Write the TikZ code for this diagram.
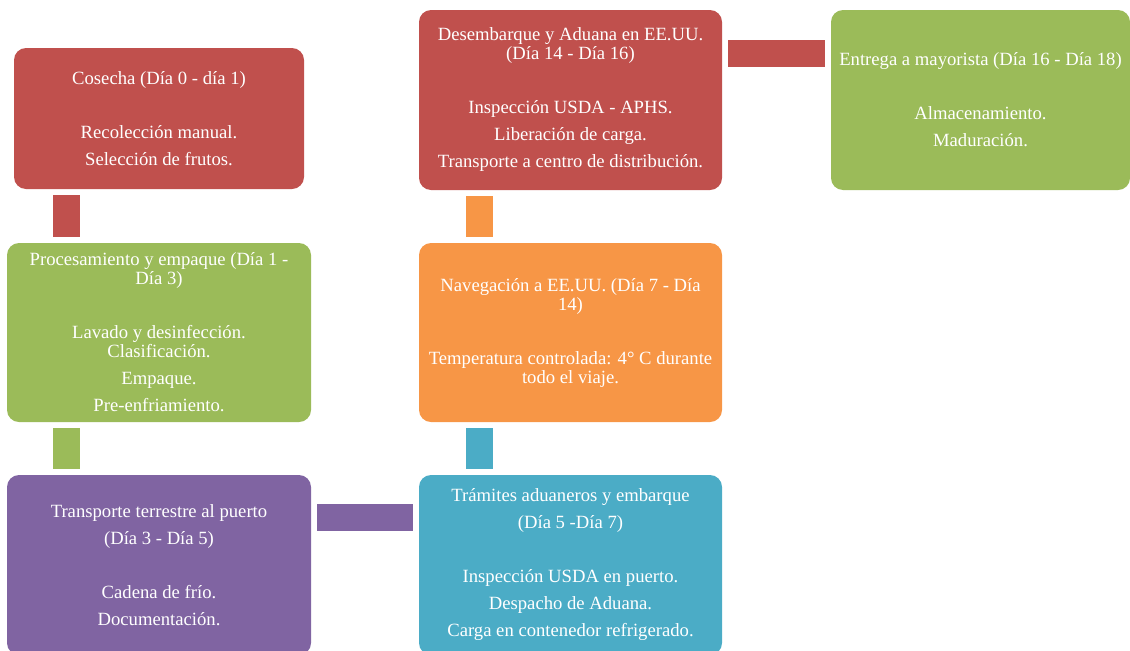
\documentclass[tikz,border=0pt]{standalone}
\usepackage{fontspec}
\setmainfont{Liberation Serif}
\usepackage{tikz}
\usetikzlibrary{positioning, calc}
\definecolor{redbox}{HTML}{C0504D}
\definecolor{greenbox}{HTML}{9BBB59}
\definecolor{purplebox}{HTML}{8064A2}
\definecolor{tealbox}{HTML}{4BACC6}
\definecolor{orangebox}{HTML}{F79646}
\tikzset{
  stage/.style={rounded corners=9pt, text=white, align=center, inner sep=0pt,
    font=\fontsize{14pt}{14.25pt}\selectfont},
  bar/.style={line width=20.25pt, draw=#1, shorten <=4.5pt, shorten >=4.5pt}
}

\begin{document}
\begin{tikzpicture}[x=0.75pt, y=-0.75pt]
            \useasboundingbox (0, 0) rectangle (1130, 650);

            \node[stage, fill=redbox, minimum width=217.5pt, minimum height=105.75pt] (cosecha) at (159, 118.5)
                {Cosecha (Día 0 - día 1)\\[26.25pt] Recolección manual.\\[6pt] Selección de frutos.};
            \node[stage, fill=greenbox, minimum width=228pt, minimum height=134.25pt] (proc) at (159, 332.5)
                {Procesamiento y empaque (Día 1 -\\ Día 3)\\[26.25pt] Lavado y desinfección.\\ Clasificación.\\[6pt] Empaque.\\[6pt] Pre-enfriamiento.};
            \node[stage, fill=purplebox, minimum width=228pt, minimum height=135pt] (terrestre) at (159, 565)
                {Transporte terrestre al puerto\\[6pt] (Día 3 - Día 5)\\[26.25pt] Cadena de frío.\\[6pt] Documentación.};
            \node[stage, fill=tealbox, minimum width=227.25pt, minimum height=135pt] (tramites) at (570.5, 565)
                {Trámites aduaneros y embarque\\[6pt] (Día 5 -Día 7)\\[26.25pt] Inspección USDA en puerto.\\[6pt] Despacho de Aduana.\\[6pt] Carga en contenedor refrigerado.};
            \node[stage, fill=orangebox, minimum width=227.25pt, minimum height=134.25pt] (naveg) at (570.5, 332.5)
                {Navegación a EE.UU. (Día 7 - Día\\ 14)\\[26.25pt] Temperatura controlada: 4° C durante\\ todo el viaje.};
            \node[stage, fill=redbox, minimum width=227.25pt, minimum height=135pt] (desemb) at (570.5, 100)
                {Desembarque y Aduana en EE.UU.\\ (Día 14 - Día 16)\\[26.25pt] Inspección USDA - APHS.\\[6pt] Liberación de carga.\\[6pt] Transporte a centro de distribución.};
            \node[stage, fill=greenbox, minimum width=224.25pt, minimum height=135pt] (entrega) at (980.5, 100)
                {Entrega a mayorista (Día 16 - Día 18)\\[26.25pt] Almacenamiento.\\[6pt] Maduración.};

            % bar start points
            \coordinate (c1) at ($(cosecha.south west)+(52.5, 0)$);
            \coordinate (c2) at ($(proc.south west)+(59.5, 0)$);
            \coordinate (c3) at ($(terrestre.north east)+(0, 42.5)$);
            \coordinate (c4) at ($(tramites.north west)+(60.5, 0)$);
            \coordinate (c5) at ($(naveg.north west)+(60.5, 0)$);
            \coordinate (c6) at ($(desemb.north east)+(0, 43.5)$);

            \draw[bar=redbox] (c1) -- (c1 |- proc.north);
            \draw[bar=greenbox] (c2) -- (c2 |- terrestre.north);
            \draw[bar=purplebox] (c3) -- (c3 -| tramites.west);
            \draw[bar=tealbox] (c4) -- (c4 |- naveg.south);
            \draw[bar=orangebox] (c5) -- (c5 |- desemb.south);
            \draw[bar=redbox] (c6) -- (c6 -| entrega.west);
        \end{tikzpicture}
\end{document}
